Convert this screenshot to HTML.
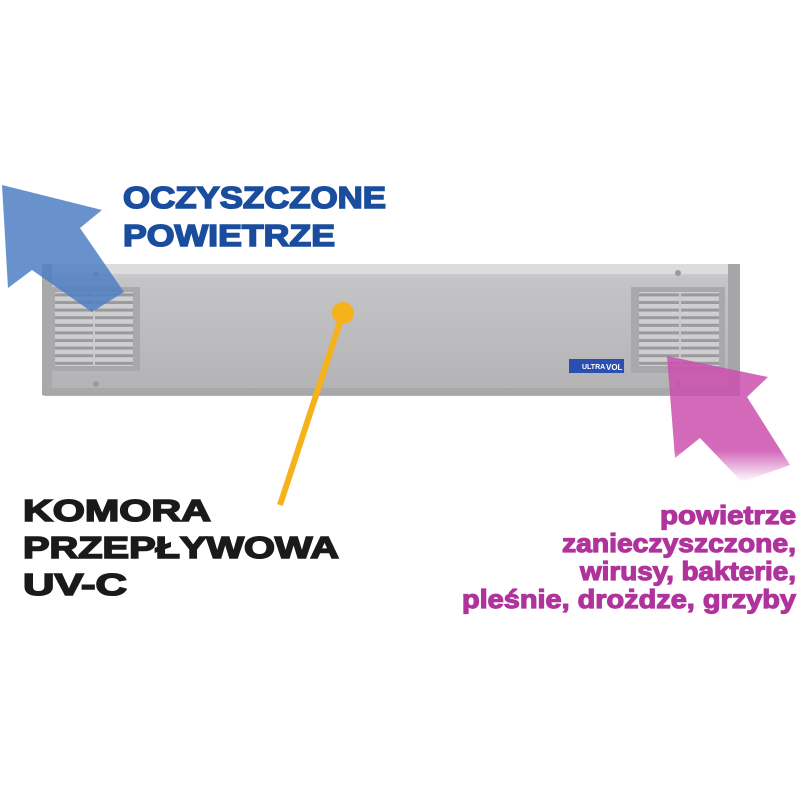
<!DOCTYPE html>
<html><head><meta charset="utf-8"><style>
html,body{margin:0;padding:0;background:#fff;width:800px;height:800px;overflow:hidden}
svg{display:block}
text{font-family:"Liberation Sans",sans-serif;font-weight:bold}
</style></head><body>
<svg width="800" height="800" viewBox="0 0 800 800" xmlns="http://www.w3.org/2000/svg">
<defs>
<linearGradient id="body" x1="0" y1="0" x2="0" y2="1">
<stop offset="0" stop-color="#d6d6d8"/><stop offset="0.12" stop-color="#c4c4c6"/><stop offset="0.5" stop-color="#bdbdbf"/><stop offset="1" stop-color="#b2b2b4"/>
</linearGradient>
<pattern id="slats" width="10" height="7.6" patternUnits="userSpaceOnUse">
<rect width="10" height="7.6" fill="#9a9a9c"/><rect y="0" width="10" height="4.6" fill="#cfcfd1"/>
</pattern>
<linearGradient id="pfade" x1="0" y1="0" x2="0" y2="1">
<stop offset="0" stop-color="#cc4fae" stop-opacity="0.85"/><stop offset="0.75" stop-color="#cc4fae" stop-opacity="0.85"/><stop offset="1" stop-color="#cc4fae" stop-opacity="0"/>
</linearGradient>
</defs>
<rect x="42" y="264" width="698" height="132" rx="3" fill="url(#body)"/>
<rect x="42" y="264" width="698" height="10" fill="#dcdcde"/>
<rect x="42" y="264" width="10" height="130" fill="#a9a9ab"/>
<rect x="728" y="264" width="12" height="130" fill="#a6a6a8"/>
<rect x="42" y="388" width="698" height="7" fill="#a8a8aa"/>
<circle cx="96" cy="274" r="3" fill="#9a9a9c"/><circle cx="96" cy="384" r="3" fill="#9a9a9c"/>
<circle cx="678" cy="273" r="3" fill="#9a9a9c"/><circle cx="678" cy="384" r="3" fill="#9a9a9c"/>
<rect x="50" y="287" width="90" height="84" fill="#a9a9ab"/>
<rect x="55" y="292" width="78" height="74" fill="url(#slats)"/>
<rect x="93" y="292" width="2" height="74" fill="#c9c9cb"/>
<rect x="631" y="287" width="94" height="86" fill="#a9a9ab"/>
<rect x="639" y="292" width="80" height="74" fill="url(#slats)"/>
<rect x="679" y="292" width="2" height="74" fill="#c9c9cb"/>
<rect x="569" y="359" width="55" height="14" fill="#2b4fb0"/>
<text x="582" y="369" font-size="7" fill="#fff">ULTRA</text>
<text x="606" y="370" font-size="8" fill="#fff">VOL</text>
<polygon points="2,185 102,210 80,228 124,292 92,312 32,270 8,288" fill="#4f7fc3" fill-opacity="0.85"/>
<polygon points="667,356 768,377 747,397 790,465 742,482 700,438 675,458" fill="url(#pfade)"/>
<line x1="343" y1="313" x2="280" y2="505" stroke="#f5b21b" stroke-width="6"/>
<circle cx="343" cy="313" r="11" fill="#f5b21b"/>
<g fill="#1a4d9e" stroke="#1a4d9e" stroke-width="1.6" font-size="31">
<text x="123" y="208" textLength="263" lengthAdjust="spacingAndGlyphs">OCZYSZCZONE</text>
<text x="123" y="246" textLength="212" lengthAdjust="spacingAndGlyphs">POWIETRZE</text>
</g>
<g fill="#1a1a1a" stroke="#1a1a1a" stroke-width="1.6" font-size="31">
<text x="23" y="521" textLength="188" lengthAdjust="spacingAndGlyphs">KOMORA</text>
<text x="23" y="558" textLength="316" lengthAdjust="spacingAndGlyphs">PRZEPŁYWOWA</text>
<text x="23" y="595" textLength="104" lengthAdjust="spacingAndGlyphs">UV-C</text>
</g>
<g fill="#b0339c" stroke="#b0339c" stroke-width="1.2" font-size="26" text-anchor="end">
<text x="796" y="524" textLength="136" lengthAdjust="spacingAndGlyphs">powietrze</text>
<text x="796" y="552" textLength="234" lengthAdjust="spacingAndGlyphs">zanieczyszczone,</text>
<text x="796" y="580" textLength="216" lengthAdjust="spacingAndGlyphs">wirusy, bakterie,</text>
<text x="796" y="608" textLength="334" lengthAdjust="spacingAndGlyphs">pleśnie, drożdze, grzyby</text>
</g>
</svg>
</body></html>
